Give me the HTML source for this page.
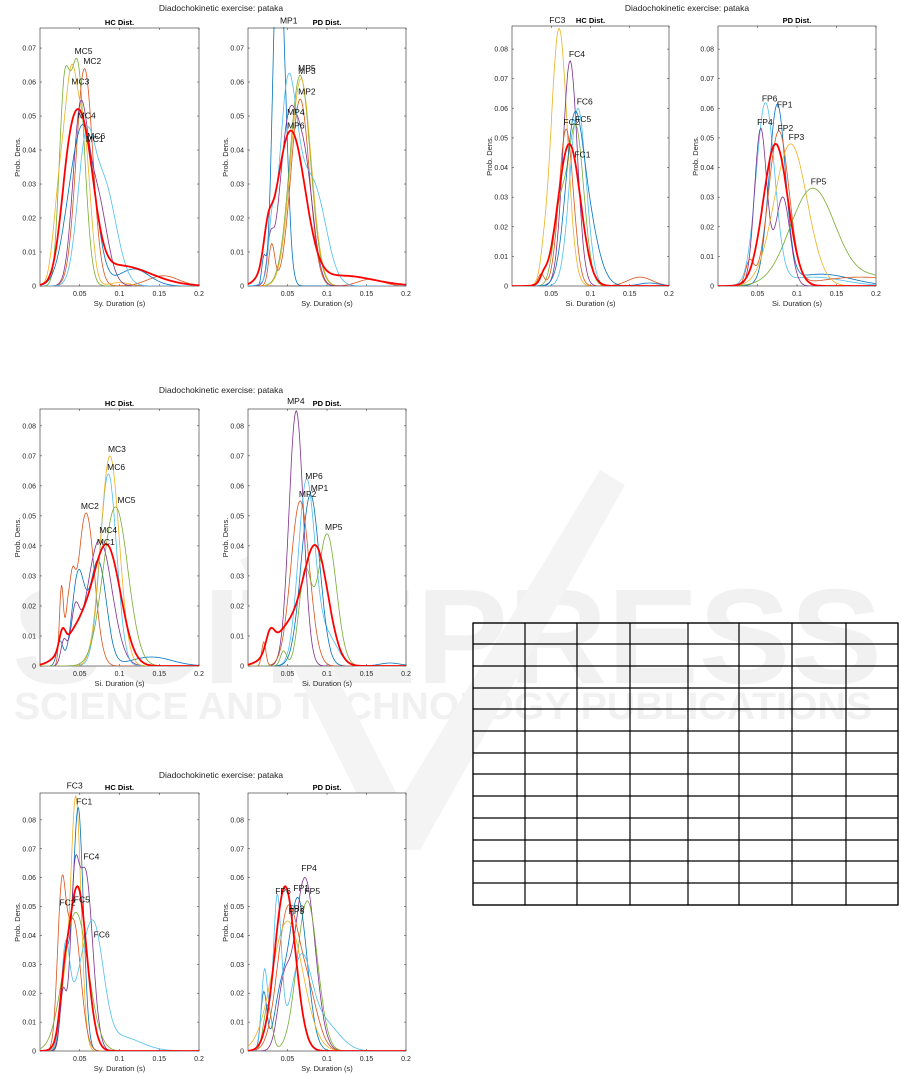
<!DOCTYPE html>
<html><head><meta charset="utf-8"><style>
html,body{margin:0;padding:0;background:#fff}
svg{display:block;font-family:"Liberation Sans",Arial,sans-serif}
</style></head><body>
<svg id="s" width="901" height="1074" viewBox="0 0 901 1074" xmlns="http://www.w3.org/2000/svg">
<g fill="#f1f1f1" font-weight="bold">
<text x="12" y="683" font-size="135" textLength="870" lengthAdjust="spacingAndGlyphs">SCITEPRESS</text>
<text x="14" y="719" font-size="38" textLength="858" lengthAdjust="spacingAndGlyphs">SCIENCE AND TECHNOLOGY PUBLICATIONS</text>
</g>
<path d="M240 560 L270 545 L400 800 L600 470 L625 485 L420 850 L385 850 Z" fill="#f4f4f4"/>
<g id="tbl" stroke="#000" stroke-width="1.2" fill="none"></g>
<g id="plots"></g>
</svg>
<script>
const NS="http://www.w3.org/2000/svg";
function el(p,t,a,txt){const e=document.createElementNS(NS,t);for(const k in a)e.setAttribute(k,a[k]);if(txt!==undefined)e.textContent=txt;p.appendChild(e);return e;}
const tb=document.getElementById('tbl');
const cx=[473,525,577,630,688,739,792,846,898],ry=[623,644,666,688,709,731,753,774,796,818,840,861,883,905];
el(tb,'rect',{x:473,y:623,width:425,height:282});
cx.forEach(x=>el(tb,'line',{x1:x,y1:623,x2:x,y2:905}));
ry.forEach(y=>el(tb,'line',{x1:473,y1:y,x2:898,y2:y}));
const B='#0072BD',O='#D95319',Y='#EDB120',P='#7E2F8E',G='#77AC30',C='#4DBEEE',R='#FF0000';
const figs=[
{top:28,bot:286,ymax:0.0759,yt:[0,.01,.02,.03,.04,.05,.06,.07],xl:'Sy. Duration (s)',px:[[40,199],[248,406]],tx:221,ty:11,
 panels:[
 [[G,[[.03,.005,.05],[.047,.007,.065]],'MC5',.046,.068],[O,[[.056,.008,.064],[.155,.015,.003]],'MC2',.057,.065],
  [Y,[[.025,.006,.028],[.04,.006,.056],[.056,.006,.04],[.1,.01,.001]],'MC3',.042,.059],[P,[[.05,.007,.045],[.07,.01,.028]],'MC4',.05,.049],
  [B,[[.04,.01,.02],[.058,.01,.038],[.118,.015,.005]],'MC1',.06,.042],[C,[[.057,.008,.035],[.08,.012,.03]],'MC6',.062,.043],
  [R,[[.035,.008,.02],[.053,.011,.043],[.1,.03,.006]],'',0,0]],
 [[B,[[.035,.004,.06],[.043,.005,.072],[.02,.002,.008]],'MP1',.043,.077],[G,[[.066,.01,.062]],'MP5',.066,.063],
  [Y,[[.067,.01,.061]],'MP3',.066,.062],[O,[[.066,.009,.055],[.03,.003,.012],[.155,.012,.002]],'MP2',.066,.056],
  [P,[[.052,.009,.048],[.073,.008,.03],[.028,.003,.01]],'MP4',.052,.05],[C,[[.05,.008,.045],[.07,.015,.028],[.09,.01,.01],[.03,.003,.012]],'MP6',.052,.046],
  [R,[[.054,.014,.045],[.12,.03,.003],[.025,.004,.008]],'',0,0]]]},
{top:26,bot:286,ymax:0.0878,yt:[0,.01,.02,.03,.04,.05,.06,.07,.08],xl:'Si. Duration (s)',px:[[512,669],[718,876]],tx:687,ty:11,
 panels:[
 [[Y,[[.06,.008,.087],[.04,.003,.004]],'FC3',.05,.0885],[P,[[.074,.007,.076]],'FC4',.075,.077],[C,[[.084,.008,.06]],'FC6',.085,.061],
  [G,[[.081,.008,.054],[.06,.006,.022]],'FC5',.083,.055],[O,[[.069,.007,.053],[.037,.003,.004],[.163,.012,.003]],'FC2',.068,.054],
  [B,[[.078,.008,.035],[.09,.012,.03],[.175,.01,.001]],'FC1',.082,.043],[R,[[.073,.011,.048],[.04,.003,.002]],'',0,0]],
 [[C,[[.06,.009,.061],[.12,.03,.003]],'FP6',.058,.062],[B,[[.075,.008,.06],[.13,.03,.004]],'FP1',.077,.06],
  [P,[[.054,.006,.053],[.082,.007,.03]],'FP4',.052,.054],[O,[[.077,.01,.052],[.04,.004,.008],[.18,.04,.003]],'FP2',.078,.052],
  [Y,[[.092,.016,.048]],'FP3',.092,.049],[G,[[.12,.022,.033],[.2,.02,.003]],'FP5',.12,.034],[R,[[.073,.012,.048]],'',0,0]]]},
{top:409,bot:666,ymax:0.0856,yt:[0,.01,.02,.03,.04,.05,.06,.07,.08],xl:'Si. Duration (s)',px:[[40,199],[248,406]],tx:221,ty:393,
 panels:[
 [[O,[[.027,.002,.026],[.034,.002,.01],[.04,.003,.02],[.058,.008,.051]],'MC2',.054,.052],[B,[[.025,.003,.008],[.048,.006,.03],[.073,.008,.035],[.14,.02,.003]],'MC1',.074,.04],
  [P,[[.03,.003,.008],[.044,.004,.015],[.075,.012,.042]],'MC4',.077,.044],[C,[[.086,.008,.064]],'MC6',.087,.065],
  [Y,[[.088,.009,.07]],'MC3',.088,.071],[G,[[.095,.012,.053]],'MC5',.1,.054],[R,[[.028,.003,.006],[.05,.015,.012],[.085,.013,.038]],'',0,0]],
 [[P,[[.061,.007,.085]],'MP4',.052,.087],[C,[[.074,.008,.061],[.1,.01,.01]],'MP6',.075,.062],[B,[[.079,.009,.057],[.18,.01,.001]],'MP1',.082,.058],
  [O,[[.066,.009,.055],[.02,.002,.008]],'MP2',.067,.056],[G,[[.072,.006,.03],[.1,.009,.044],[.045,.003,.005]],'MP5',.1,.045],
  [R,[[.028,.004,.006],[.05,.015,.012],[.086,.012,.038]],'',0,0]]]},
{top:793,bot:1051,ymax:0.0893,yt:[0,.01,.02,.03,.04,.05,.06,.07,.08],xl:'Sy. Duration (s)',px:[[40,199],[248,406]],tx:221,ty:778,
 panels:[
 [[Y,[[.045,.005,.088],[.03,.004,.02]],'FC3',.036,.0905],[B,[[.048,.005,.084],[.032,.004,.03]],'FC1',.048,.085],
  [P,[[.029,.003,.02],[.043,.004,.045],[.057,.007,.062]],'FC4',.057,.066],[O,[[.027,.004,.048],[.042,.007,.045]],'FC2',.027,.05],
  [G,[[.045,.012,.048]],'FC5',.045,.051],[C,[[.032,.004,.03],[.05,.01,.02],[.069,.009,.035],[.1,.02,.005]],'FC6',.07,.039],
  [R,[[.047,.009,.057],[.03,.004,.01]],'',0,0]],
 [[P,[[.072,.01,.06],[.045,.006,.02]],'FP4',.07,.062],[G,[[.075,.01,.052],[.025,.004,.016]],'FP5',.074,.054],
  [B,[[.063,.009,.053],[.04,.006,.015],[.02,.003,.02]],'FP1',.06,.055],[O,[[.05,.01,.047],[.075,.01,.02]],'FP2',.054,.048],
  [Y,[[.05,.015,.045]],'FP3',.054,.047],[C,[[.021,.003,.028],[.037,.004,.052],[.067,.01,.03],[.095,.015,.01]],'FP6',.037,.054],
  [R,[[.047,.01,.057]],'',0,0]]]}
];
const root=document.getElementById('plots');
let cid=0;
figs.forEach(f=>{
 el(root,'text',{x:f.tx,y:f.ty,'font-size':8.5,'text-anchor':'middle',fill:'#222'},'Diadochokinetic exercise: pataka');
 f.px.forEach((pp,pi)=>{
  const [x0,x1]=pp,H=f.bot-f.top;
  const X=v=>x0+v/0.2*(x1-x0),Yf=v=>f.bot-v/f.ymax*H;
  const g=el(root,'g',{});
  el(g,'rect',{x:x0,y:f.top,width:x1-x0,height:H,fill:'#fff',stroke:'#262626','stroke-width':0.6});
  f.yt.forEach(v=>{const y=Yf(v);
   el(g,'line',{x1:x0,y1:y,x2:x0+2,y2:y,stroke:'#262626','stroke-width':0.5});
   el(g,'line',{x1:x1,y1:y,x2:x1-2,y2:y,stroke:'#262626','stroke-width':0.5});
   el(g,'text',{x:x0-4,y:y+2.5,'font-size':7,'text-anchor':'end',fill:'#262626'},v===0?'0':v.toFixed(2));});
  [[.05,'0.05'],[.1,'0.1'],[.15,'0.15'],[.2,'0.2']].forEach(([v,s])=>{const x=X(v);
   el(g,'line',{x1:x,y1:f.bot,x2:x,y2:f.bot-2,stroke:'#262626','stroke-width':0.5});
   el(g,'line',{x1:x,y1:f.top,x2:x,y2:f.top+2,stroke:'#262626','stroke-width':0.5});
   el(g,'text',{x:x,y:f.bot+10,'font-size':7,'text-anchor':'middle',fill:'#262626'},s);});
  el(g,'text',{x:(x0+x1)/2,y:f.bot+20,'font-size':7.5,'text-anchor':'middle',fill:'#262626'},f.xl);
  const ym=(f.top+f.bot)/2;
  el(g,'text',{x:x0-20,y:ym,'font-size':7.5,'text-anchor':'middle',fill:'#262626',transform:`rotate(-90 ${x0-20} ${ym})`},'Prob. Dens.');
  el(g,'text',{x:(x0+x1)/2,y:f.top-3,'font-size':7.5,'font-weight':'bold','text-anchor':'middle',fill:'#000'},pi?'PD Dist.':'HC Dist.');
  const id='c'+(cid++);
  const cp=el(g,'clipPath',{id:id});el(cp,'rect',{x:x0,y:f.top-1,width:x1-x0,height:H+1});
  const cg=el(g,'g',{'clip-path':`url(#${id})`});
  f.panels[pi].forEach(c=>{
   let d='';for(let i=0;i<=200;i++){const x=i*0.001;let y=0;c[1].forEach(([m,s,a])=>{const ss=s*1.3;y+=a*Math.exp(-0.5*((x-m)/ss)**2)});
    d+=(i?'L':'M')+X(x).toFixed(1)+' '+Yf(y).toFixed(1);}
   el(cg,'path',{d:d,fill:'none',stroke:c[0],'stroke-width':c[0]===R?1.8:0.8});
  });
  f.panels[pi].forEach(c=>{if(c[2])el(g,'text',{x:X(c[3])-2,y:Yf(c[4])-1,'font-size':8.5,fill:'#111'},c[2]);});
 });
});
</script>
</body></html>
